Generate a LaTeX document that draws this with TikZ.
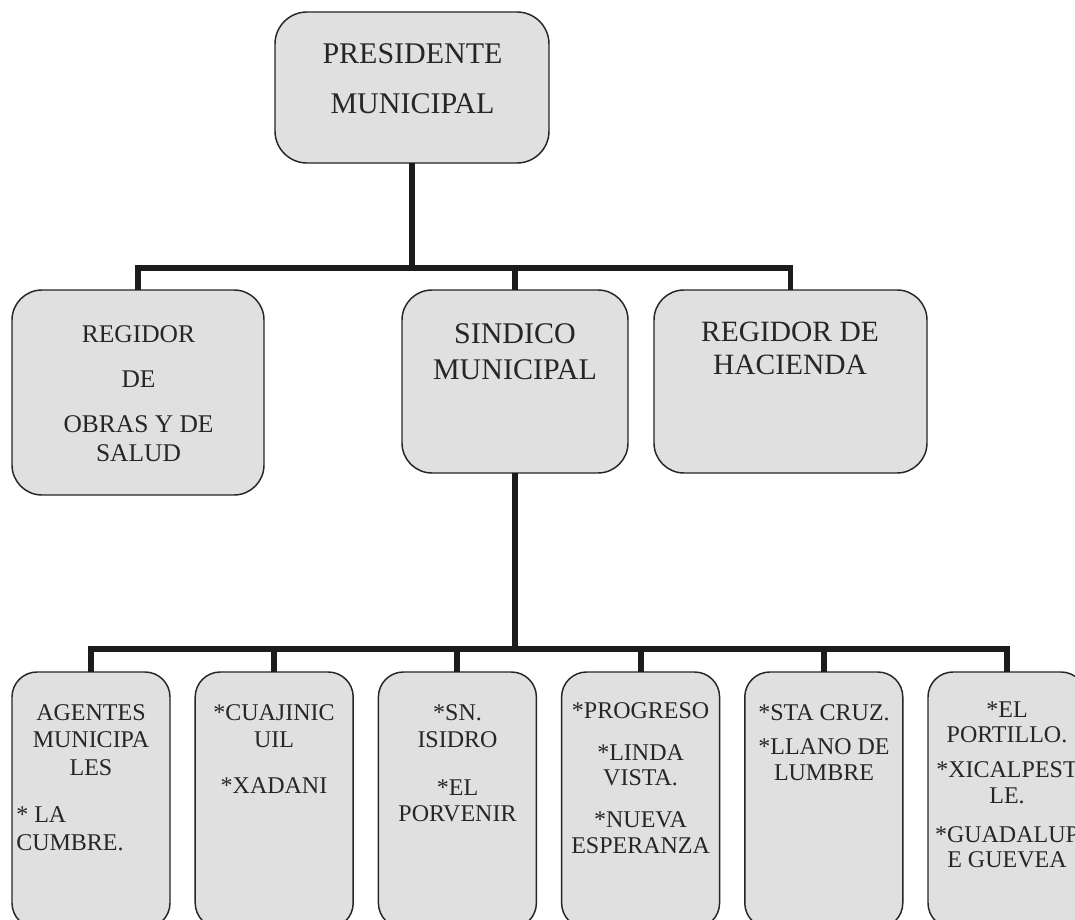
\documentclass[tikz,border=0pt]{standalone}
\usepackage{fontspec}
\setmainfont{Liberation Serif}
\definecolor{boxfill}{HTML}{E0E0E0}
\definecolor{boxline}{HTML}{262626}
\definecolor{connc}{HTML}{1C1C1C}
\definecolor{txtc}{HTML}{262626}
\tikzset{
  orgbox/.style={draw=boxline, fill=boxfill, line width=1.1pt, inner sep=0pt, outer sep=0pt},
  topbox/.style={orgbox, minimum width=205.5pt, minimum height=113.25pt, rounded corners=24pt},
  midbox/.style={orgbox, minimum height=137.25pt, rounded corners=22.5pt},
  lowbox/.style={orgbox, minimum width=118.5pt, minimum height=192pt, rounded corners=18.75pt},
  conn/.style={draw=connc, line width=4.4pt, line join=miter},
  txt/.style={text=txtc, align=center, inner sep=0pt, anchor=north},
  bigfont/.style={font=\fontsize{22.5}{37.5}\selectfont},
  lowfont/.style={font=\fontsize{18}{20.25}\selectfont}
}
\begin{document}
\begin{tikzpicture}[x=0.75pt,y=-0.75pt]
\useasboundingbox (0,0) rectangle (1075,920);
\clip (0,0) rectangle (1075,920);
\fill[white] (0,0) rectangle (1075,920);

% boxes
\node[topbox] (pres) at (412,87.5) {};
\node[orgbox, minimum width=189pt, minimum height=153.75pt, rounded corners=22.5pt] (regobras) at (138,392.5) {};
\node[midbox, minimum width=169.5pt] (sind) at (515,381.5) {};
\node[midbox, minimum width=204.75pt] (hac) at (790.5,381.5) {};
\node[lowbox] (b1) at (91,800) {};
\node[lowbox] (b2) at (274.2,800) {};
\node[lowbox] (b3) at (457.4,800) {};
\node[lowbox] (b4) at (640.6,800) {};
\node[lowbox] (b5) at (823.8,800) {};
\node[lowbox] (b6) at (1007,800) {};

% connectors
\coordinate (j1) at (412,268);
\coordinate (j2) at (515,649);
\draw[conn] (pres.south) -- (j1);
\draw[conn] (regobras.north) |- (j1) -| (hac.north);
\draw[conn] (sind.north) -- (sind.north |- j1);
\draw[conn] (sind.south) -- (j2);
\draw[conn] (b1.north) |- (j2) -| (b6.north);
\draw[conn] (b2.north) -- (b2.north |- j2);
\draw[conn] (b3.north) -- (b3.north |- j2);
\draw[conn] (b4.north) -- (b4.north |- j2);
\draw[conn] (b5.north) -- (b5.north |- j2);

% texts
\node[txt, bigfont] (tpres) at (412.5,43.3) {PRESIDENTE\\MUNICIPAL};
\node[txt, font=\fontsize{19.1}{22.1}\selectfont] (tregobras) at (138.5,325.3) {REGIDOR\\[11.6pt]DE\\[11.6pt]OBRAS Y DE\\SALUD};
\node[txt, font=\fontsize{22.5}{27}\selectfont] (tsind) at (515,323.3) {SINDICO\\MUNICIPAL};
\node[txt, font=\fontsize{22.1}{24.4}\selectfont] (thac) at (790,322) {REGIDOR DE\\HACIENDA};

\node[txt, lowfont, font=\fontsize{18}{20.6}\selectfont] (tb1a) at (91,704.3) {AGENTES\\MUNICIPA\\LES};
\node[txt, lowfont, font=\fontsize{18}{21}\selectfont, align=left, anchor=north west] (tb1b) at (16,806.3) {* LA\\CUMBRE.};
\node[txt, lowfont] (tb2) at (274,704.3) {*CUAJINIC\\UIL\\[14.25pt]*XADANI};
\node[txt, lowfont, font=\fontsize{18}{20}\selectfont] (tb3) at (457.5,704.3) {*SN.\\ISIDRO\\[16pt]*EL\\PORVENIR};
\node[txt, lowfont, font=\fontsize{18}{19.1}\selectfont] (tb4) at (640.6,702.3) {*PROGRESO\\[12.4pt]*LINDA\\VISTA.\\[12.4pt]*NUEVA\\ESPERANZA};
\node[txt, lowfont, font=\fontsize{18}{19.6}\selectfont] (tb5) at (824,704.3) {*STA CRUZ.\\[6pt]*LLANO DE\\LUMBRE};
\node[txt, lowfont, font=\fontsize{18}{19.1}\selectfont] (tb6) at (1007,701.3) {*EL\\PORTILLO.\\[7.1pt]*XICALPEST\\LE.\\[10.1pt]*GUADALUP\\E GUEVEA};
\end{tikzpicture}
\end{document}
